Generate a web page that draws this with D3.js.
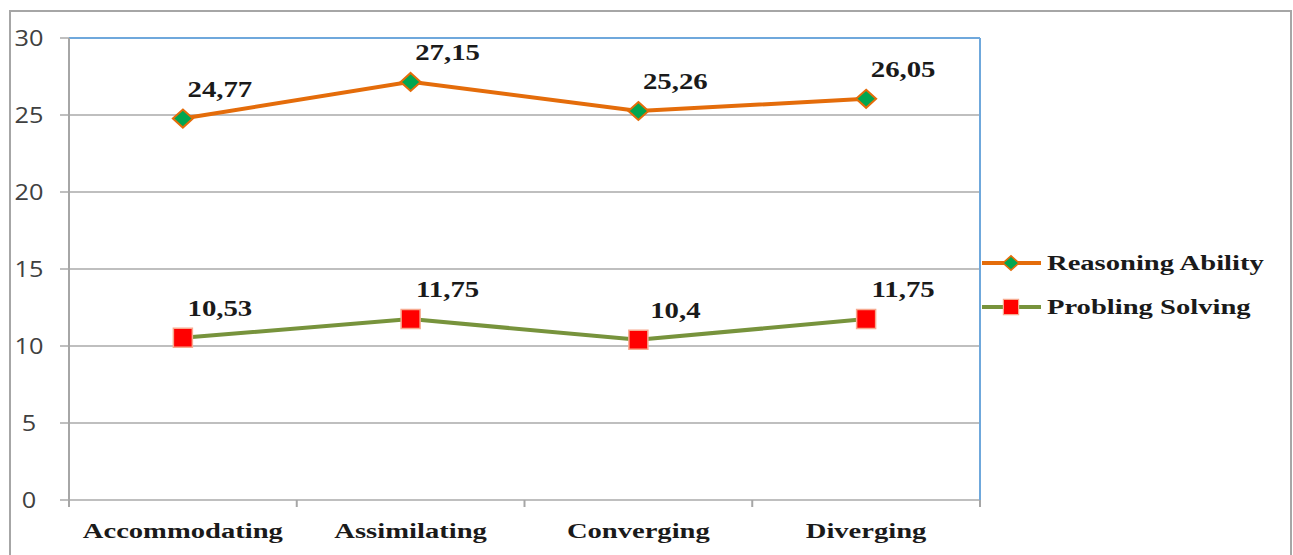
<!DOCTYPE html>
<html lang="en">
<head>
<meta charset="utf-8">
<title>Reasoning Ability and Probling Solving</title>
<script src="https://cdn.jsdelivr.net/npm/d3@7"></script>
<style>
	body { margin: 0; background: #fff; }
	.tick-label { font-family: "Open Sans", "Liberation Sans", sans-serif; font-size: 22px; fill: #404040; }
	.cat-label { font-family: "Liberation Serif", "Times New Roman", serif; font-weight: bold; font-size: 22px; fill: #1a1a1a; }
	.val-label { font-family: "Liberation Serif", "Times New Roman", serif; font-weight: bold; font-size: 24px; fill: #1a1a1a; }
	.leg-label { font-family: "Liberation Serif", "Times New Roman", serif; font-weight: bold; font-size: 22px; fill: #1a1a1a; }
	.wide { transform-box: fill-box; transform-origin: center; }
	.wide-left { transform-box: fill-box; transform-origin: left center; }
</style>
</head>
<body>
<div id="chart"></div>
<script>
	var categories = ["Accommodating", "Assimilating", "Converging", "Diverging"];
	var reasoning = [24.77, 27.15, 25.26, 26.05];
	var problem = [10.53, 11.75, 10.4, 11.75];
	var yTicks = [0, 5, 10, 15, 20, 25, 30];
	var seriesNames = ["Reasoning Ability", "Probling Solving"];

	var W = 1293, H = 555;
	var plot = {left: 69, right: 980, top: 38, bottom: 500};

	var svg = d3.select("#chart").append("svg")
		.attr("width", W)
		.attr("height", H);

	// outer frame
	svg.append("rect")
		.attr("x", 10).attr("y", 11)
		.attr("width", 1281).attr("height", 570)
		.attr("fill", "none")
		.attr("stroke", "#a6a6a6")
		.attr("stroke-width", 2);

	var x = d3.scaleBand()
		.domain(categories)
		.range([plot.left, plot.right]);
	var y = d3.scaleLinear()
		.domain([0, 30])
		.range([plot.bottom, plot.top]);

	var cx = function(c) { return x(c) + x.bandwidth() / 2; };
	var fmt = function(v) { return String(v).replace(".", ","); };

	// gridlines
	svg.append("g").selectAll("line")
		.data(yTicks)
		.enter().append("line")
		.attr("x1", plot.left - 9)
		.attr("x2", plot.right)
		.attr("y1", function(d) { return y(d); })
		.attr("y2", function(d) { return y(d); })
		.attr("stroke", function(d) { return d === 30 ? "#6fa8dc" : "#bfbfbf"; })
		.attr("stroke-width", 2);
	// the tick stub left of the top line stays gray
	svg.append("line")
		.attr("x1", plot.left - 9).attr("x2", plot.left)
		.attr("y1", y(30)).attr("y2", y(30))
		.attr("stroke", "#bfbfbf").attr("stroke-width", 2);

	// right border
	svg.append("line")
		.attr("x1", plot.right).attr("x2", plot.right)
		.attr("y1", plot.top).attr("y2", plot.bottom)
		.attr("stroke", "#6fa8dc").attr("stroke-width", 2);

	// left axis line
	svg.append("line")
		.attr("x1", plot.left).attr("x2", plot.left)
		.attr("y1", plot.top).attr("y2", plot.bottom + 7)
		.attr("stroke", "#a6a6a6").attr("stroke-width", 2);

	// category boundary ticks
	var bounds = categories.map(function(c) { return x(c); }).concat([plot.right]);
	svg.append("g").selectAll("line")
		.data(bounds.slice(1))
		.enter().append("line")
		.attr("x1", function(d) { return d; })
		.attr("x2", function(d) { return d; })
		.attr("y1", plot.bottom)
		.attr("y2", plot.bottom + 7)
		.attr("stroke", "#a6a6a6").attr("stroke-width", 2);

	// y tick labels
	svg.append("g").selectAll("text")
		.data(yTicks)
		.enter().append("text")
		.attr("class", "tick-label wide")
		.attr("x", 29)
		.attr("y", function(d) { return y(d) + 8; })
		.attr("text-anchor", "middle")
		.style("transform", "scaleX(1.15)")
		.text(function(d) { return d; });

	// category labels
	svg.append("g").selectAll("text")
		.data(categories)
		.enter().append("text")
		.attr("class", "cat-label wide")
		.attr("x", function(d) { return cx(d); })
		.attr("y", 538)
		.attr("text-anchor", "middle")
		.style("transform", "scaleX(1.3)")
		.text(function(d) { return d; });

	var line = d3.line()
		.x(function(d, i) { return cx(categories[i]); })
		.y(function(d) { return y(d); });

	svg.append("path")
		.datum(reasoning)
		.attr("d", line)
		.attr("fill", "none")
		.attr("stroke", "#e46c0a")
		.attr("stroke-width", 4);
	svg.append("path")
		.datum(problem)
		.attr("d", line)
		.attr("fill", "none")
		.attr("stroke", "#77933c")
		.attr("stroke-width", 4);

	function diamond(sel) {
		sel.attr("d", "M0,-9L10,0L0,9L-10,0Z")
			.attr("fill", "#00a651")
			.attr("stroke", "#e46c0a")
			.attr("stroke-width", 2);
	}
	function square(sel) {
		sel.attr("d", "M-9.5,-9.5H9.5V9.5H-9.5Z")
			.attr("fill", "#ff0000")
			.attr("stroke", "#f7a98f")
			.attr("stroke-width", 1.5);
	}

	svg.append("g").selectAll("path")
		.data(reasoning)
		.enter().append("path")
		.attr("transform", function(d, i) { return "translate(" + cx(categories[i]) + "," + y(d) + ")"; })
		.call(diamond);
	svg.append("g").selectAll("path")
		.data(problem)
		.enter().append("path")
		.attr("transform", function(d, i) { return "translate(" + cx(categories[i]) + "," + y(d) + ")"; })
		.call(square);

	// value labels
	[reasoning, problem].forEach(function(series) {
		svg.append("g").selectAll("text")
			.data(series)
			.enter().append("text")
			.attr("class", "val-label wide")
			.attr("x", function(d, i) { return cx(categories[i]) + 37; })
			.attr("y", function(d) { return y(d) - 22; })
			.attr("text-anchor", "middle")
			.style("transform", "scaleX(1.2)")
			.text(function(d) { return fmt(d); });
	});

	// legend
	var legend = svg.append("g").attr("transform", "translate(982,0)");
	var rows = [
		{name: seriesNames[0], color: "#e46c0a", y: 263, marker: diamond},
		{name: seriesNames[1], color: "#77933c", y: 307, marker: square}
	];
	rows.forEach(function(r) {
		legend.append("line")
			.attr("x1", 0).attr("x2", 59)
			.attr("y1", r.y).attr("y2", r.y)
			.attr("stroke", r.color).attr("stroke-width", 4);
		legend.append("path")
			.attr("transform", "translate(29," + r.y + ") scale(0.8)")
			.call(r.marker);
		legend.append("text")
			.attr("class", "leg-label wide-left")
			.attr("x", 65)
			.attr("y", r.y + 7)
			.style("transform", "scaleX(1.3)")
			.text(r.name);
	});
</script>
</body>
</html>
